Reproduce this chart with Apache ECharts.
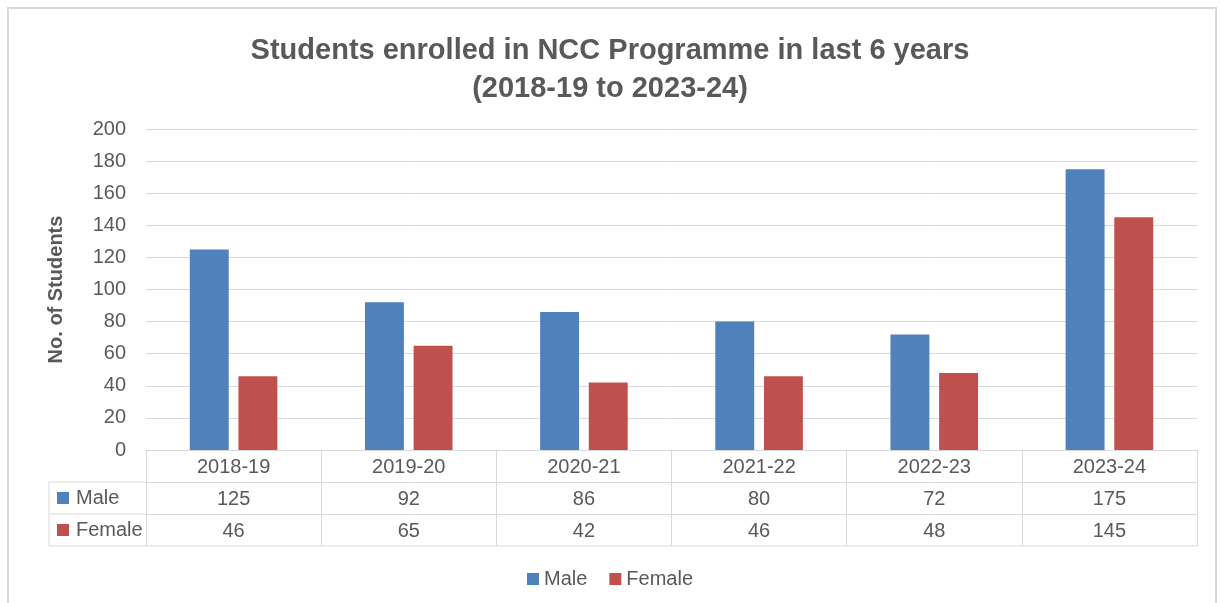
<!DOCTYPE html>
<html>
<head>
<meta charset="utf-8">
<script src="https://cdn.jsdelivr.net/npm/echarts@6/dist/echarts.min.js"></script>
<style>
  html, body { margin: 0; padding: 0; background: #fff; }
  #chart { width: 1220px; height: 603px; }
</style>
</head>
<body>
<div id="chart"></div>
<script>
const years = ['2018-19', '2019-20', '2020-21', '2021-22', '2022-23', '2023-24']
const male = [125, 92, 86, 80, 72, 175]
const female = [46, 65, 42, 46, 48, 145]
const yTicks = { min: 0, max: 200, step: 20 }

const FONT = '"Liberation Sans", sans-serif'
const TXT = '#595959'
const LINE = '#D9D9D9'
const BLUE = '#4F81BD'
const RED = '#C0504D'

let chart = echarts.init(document.getElementById('chart'))

// table geometry (pixels)
const gl = 146, gr = 1197, g0 = 450, row = 32, tl = 49

let option = {
  animation: false,
  textStyle: { fontFamily: FONT },
  title: {
    text: 'Students enrolled in NCC Programme in last 6 years\n(2018-19 to 2023-24)',
    left: 'center',
    top: 27,
    textStyle: { fontSize: 29, fontWeight: 'bold', color: TXT, lineHeight: 38, fontFamily: FONT }
  },
  legend: {
    data: ['Male', 'Female'],
    top: 564,
    left: 'center',
    itemWidth: 12,
    itemHeight: 12,
    itemGap: 22,
    icon: 'rect',
    textStyle: { fontSize: 20, color: TXT, fontFamily: FONT }
  },
  grid: { left: gl, right: 1220 - gr, top: 129, bottom: 603 - g0, containLabel: false },
  xAxis: [
    {
      type: 'category', data: years, position: 'bottom',
      axisLine: { lineStyle: { color: LINE, width: 1 } },
      axisTick: { show: true, length: row * 3, lineStyle: { color: LINE } },
      axisLabel: { margin: 7, fontSize: 20, color: TXT, fontFamily: FONT }
    },
    {
      type: 'category', data: years, position: 'bottom', offset: row,
      axisLine: { lineStyle: { color: LINE, width: 1 } },
      axisTick: { show: false },
      axisLabel: { margin: 7, fontSize: 20, color: TXT, fontFamily: FONT, formatter: (v, i) => String(male[i]) }
    },
    {
      type: 'category', data: years, position: 'bottom', offset: row * 2,
      axisLine: { lineStyle: { color: LINE, width: 1 } },
      axisTick: { show: false },
      axisLabel: { margin: 7, fontSize: 20, color: TXT, fontFamily: FONT, formatter: (v, i) => String(female[i]) }
    }
  ],
  yAxis: {
    type: 'value', min: yTicks.min, max: yTicks.max, interval: yTicks.step,
    name: 'No. of Students',
    nameLocation: 'middle',
    nameGap: 80,
    nameTextStyle: { fontSize: 20, fontWeight: 'bold', color: TXT, fontFamily: FONT },
    axisLine: { show: false },
    axisTick: { show: false },
    axisLabel: { fontSize: 20, color: TXT, margin: 20, fontFamily: FONT },
    splitLine: { lineStyle: { color: LINE } }
  },
  series: [
    { name: 'Male', type: 'bar', data: male, xAxisIndex: 0, barGap: '25%', barCategoryGap: '50%',
      itemStyle: { color: BLUE } },
    { name: 'Female', type: 'bar', data: female, xAxisIndex: 0, barGap: '25%', barCategoryGap: '50%',
      itemStyle: { color: RED } }
  ],
  graphic: [
    { type: 'rect', shape: { x: 8, y: 8, width: 1208, height: 620 }, style: { fill: 'none', stroke: LINE, lineWidth: 2 }, silent: true },
    { type: 'line', shape: { x1: tl, y1: g0 + row, x2: gl, y2: g0 + row }, style: { stroke: LINE } },
    { type: 'line', shape: { x1: tl, y1: g0 + row * 2, x2: gl, y2: g0 + row * 2 }, style: { stroke: LINE } },
    { type: 'line', shape: { x1: tl, y1: g0 + row * 3, x2: gr, y2: g0 + row * 3 }, style: { stroke: LINE } },
    { type: 'line', shape: { x1: tl, y1: g0 + row, x2: tl, y2: g0 + row * 3 }, style: { stroke: LINE } },
    { type: 'rect', shape: { x: 57, y: g0 + row + 10, width: 12, height: 12 }, style: { fill: BLUE } },
    { type: 'text', x: 76, y: g0 + row + 16, style: { text: 'Male', fill: TXT, font: '20px ' + FONT, verticalAlign: 'middle' } },
    { type: 'rect', shape: { x: 57, y: g0 + row * 2 + 10, width: 12, height: 12 }, style: { fill: RED } },
    { type: 'text', x: 76, y: g0 + row * 2 + 16, style: { text: 'Female', fill: TXT, font: '20px ' + FONT, verticalAlign: 'middle' } }
  ]
}
chart.setOption(option)
</script>
</body>
</html>
